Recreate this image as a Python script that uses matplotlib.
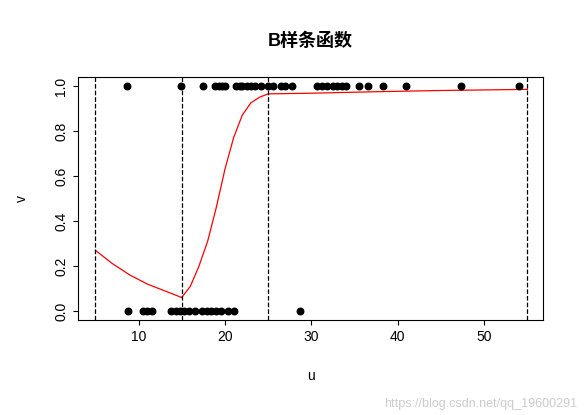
import matplotlib
matplotlib.use("Agg")
import matplotlib.pyplot as plt

u1 = [8.7, 14.9, 17.5, 18.9, 19.3, 19.7, 20.0, 21.3, 21.7, 22.0, 22.5, 23.0, 23.5, 24.2, 25.0, 25.6,
      26.5, 27.0, 27.8, 30.7, 31.2, 31.8, 32.5, 33.0, 33.6, 34.0, 35.5, 36.6, 38.3, 41.0, 47.3, 54.0]
u0 = [8.8, 10.5, 11.0, 11.6, 13.8, 14.3, 14.8, 15.3, 15.8, 16.5, 17.4, 17.9, 18.4, 19.0,
      19.6, 20.3, 21.1, 28.7]
cu = [5, 7, 9, 11, 13, 15, 16, 17, 18, 19, 20, 21, 22, 23, 24, 25, 30, 38, 45, 55]
cv = [0.27, 0.21, 0.16, 0.12, 0.09, 0.06, 0.11, 0.20, 0.31, 0.46, 0.63, 0.77, 0.87, 0.925,
      0.95, 0.965, 0.968, 0.975, 0.98, 0.985]
knots = [5, 15, 25, 55]

plt.rcParams['font.family'] = ['Liberation Sans', 'Noto Sans CJK SC']
fig = plt.figure(figsize=(5.86, 4.15), dpi=100)
ax = fig.add_axes([78/586, 1-320/415, 465/586, 243/415])
ax.scatter(u1, [1]*len(u1), s=22, color='black', zorder=3)
ax.scatter(u0, [0]*len(u0), s=22, color='black', zorder=3)
ax.plot(cu, cv, color='red', lw=0.9)
for k in knots:
    ax.axvline(k, color='black', ls='--', lw=0.9)
ax.set_xlim(3.0, 56.8)
ax.set_ylim(-0.04, 1.04)
ax.set_xticks([10, 20, 30, 40, 50])
ax.set_yticks([0, 0.2, 0.4, 0.6, 0.8, 1.0])
ax.set_yticklabels(['0.0', '0.2', '0.4', '0.6', '0.8', '1.0'], rotation=90, va='center')
ax.tick_params(labelsize=10)
ax.set_xlabel('u', fontsize=10, labelpad=18)
ax.set_ylabel('v', fontsize=10, labelpad=18)
ax.set_title('B样条函数', fontsize=13, fontweight='bold', pad=22)
fig.text(0.985, 0.02, 'https://blog.csdn.net/qq_19600291', ha='right', fontsize=9, color='#cccccc')
fig.savefig('out.png', dpi=100)
